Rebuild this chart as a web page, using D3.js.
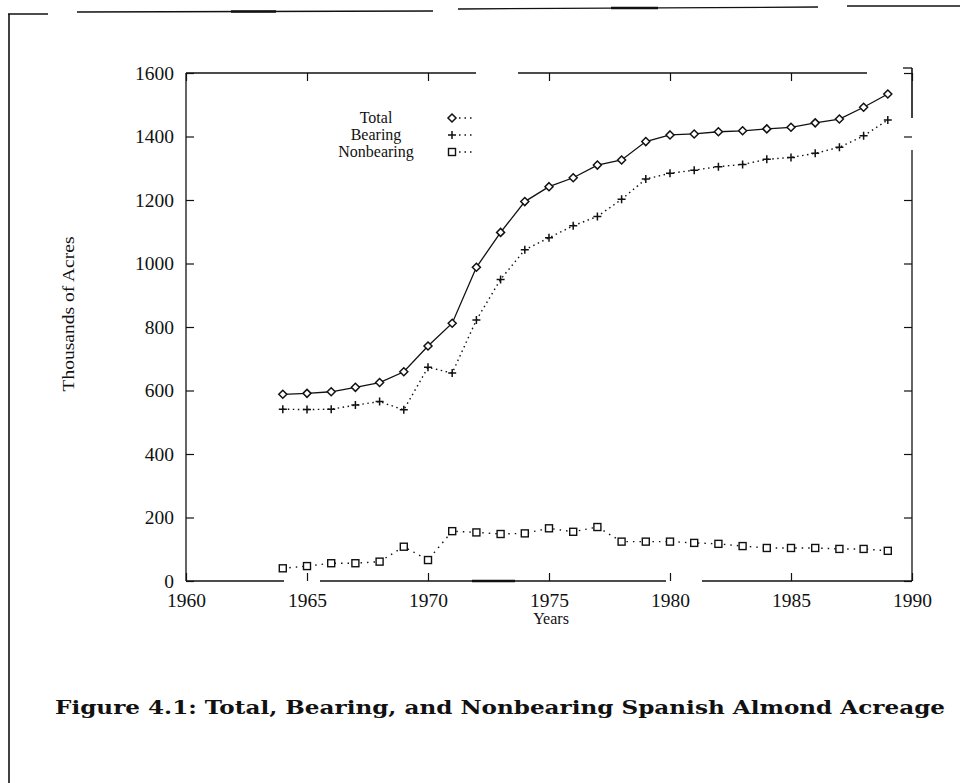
<!DOCTYPE html>
<html lang="en">
<head>
<meta charset="utf-8">
<title>Figure 4.1</title>
<script src="https://cdnjs.cloudflare.com/ajax/libs/d3/7.8.5/d3.min.js"></script>
<style>
  body { margin: 0; background: #fff; }
  svg { display: block; }
  .tick text { font-family: "Liberation Serif", serif; font-size: 19.5px; fill: #111; }
  .tick line { stroke: #111; stroke-width: 1.2; }
</style>
</head>
<body>
<script>
// data (thousands of acres)
var years = [1964, 1965, 1966, 1967, 1968, 1969, 1970, 1971, 1972, 1973, 1974, 1975, 1976,
             1977, 1978, 1979, 1980, 1981, 1982, 1983, 1984, 1985, 1986, 1987, 1988, 1989];
var total = [588, 591, 596, 610, 625, 659, 740, 812, 988, 1098, 1195, 1242, 1270,
             1310, 1326, 1384, 1405, 1408, 1415, 1418, 1424, 1429, 1443, 1455, 1492, 1534];
var bearing = [541, 540, 541, 554, 565, 539, 673, 655, 822, 950, 1043, 1081, 1119,
               1148, 1202, 1266, 1284, 1294, 1305, 1312, 1328, 1334, 1347, 1366, 1402, 1452];
var nonbearing = [40, 47, 56, 56, 61, 108, 66, 157, 153, 148, 150, 166, 155,
                  170, 124, 124, 124, 120, 117, 110, 104, 104, 104, 101, 101, 95];
var seriesNames = ["Total", "Bearing", "Nonbearing"];
var xTicks = [1960, 1965, 1970, 1975, 1980, 1985, 1990];
var yTicks = [0, 200, 400, 600, 800, 1000, 1200, 1400, 1600];

var W = 960, H = 783;
var plotL = 186, plotR = 912, plotT = 73, plotB = 581;

var svg = d3.select("body").append("svg")
    .attr("width", W).attr("height", H);

var x = d3.scaleLinear().domain([1960, 1990]).range([plotL, plotR]);
var y = d3.scaleLinear().domain([0, 1600]).range([plotB, plotT]);

// page frame left over from the scan
var ink = "#111";
function seg(x1, y1, x2, y2, w) {
  svg.append("line").attr("x1", x1).attr("y1", y1).attr("x2", x2).attr("y2", y2)
    .attr("stroke", ink).attr("stroke-width", w || 1.3);
}
seg(9, 14, 9, 783, 1.6);
seg(8, 14, 48, 14, 1.6);
seg(77, 12, 433, 11, 1.3);
seg(231, 11.5, 276, 11.5, 2.6);
seg(458, 9, 818, 7, 1.3);
seg(611, 8, 658, 8, 2.6);
seg(847, 6, 960, 6, 1.6);

// plot box (with the gaps of the scan)
seg(plotL, plotT, plotL, plotB, 1.3);
seg(plotL, plotT, 476, plotT, 1.3);
seg(518, plotT, 867, plotT, 1.3);
seg(903, 68, plotR, 68, 1.3);
seg(plotR, 68, plotR, 118, 1.6);
seg(plotR, 150, plotR, plotB, 1.3);
seg(plotL, plotB, 284, plotB, 1.3);
seg(320, plotB, 666, plotB, 1.3);
seg(472, plotB, 515, plotB, 2.4);
seg(702, plotB, plotR, plotB, 1.3);

// axes: ticks pointing inward on all four sides
var gl = svg.append("g").attr("transform", "translate(" + plotL + ",0)")
  .call(d3.axisLeft(y).tickValues(yTicks).tickFormat(d3.format("d")).tickSize(-8).tickPadding(12));
var gb = svg.append("g").attr("transform", "translate(0," + plotB + ")")
  .call(d3.axisBottom(x).tickValues(xTicks).tickFormat(d3.format("d")).tickSize(-8).tickPadding(12));
var gt = svg.append("g").attr("transform", "translate(0," + plotT + ")")
  .call(d3.axisTop(x).tickValues(xTicks).tickFormat("").tickSize(-8));
var gr = svg.append("g").attr("transform", "translate(" + plotR + ",0)")
  .call(d3.axisRight(y).tickValues(yTicks).tickFormat("").tickSize(-8));
[gl, gb, gt, gr].forEach(function(g) {
  g.select(".domain").remove();
  g.attr("font-family", null).attr("font-size", null);
});

// axis titles
svg.append("text")
  .attr("x", 551).attr("y", 624)
  .attr("text-anchor", "middle")
  .attr("font-family", "Liberation Serif").attr("font-size", 16).attr("fill", ink)
  .text("Years");
svg.append("text")
  .attr("transform", "translate(74,314) rotate(-90)")
  .attr("text-anchor", "middle")
  .attr("font-family", "Liberation Serif").attr("font-size", 17).attr("fill", ink)
  .attr("textLength", 155).attr("lengthAdjust", "spacingAndGlyphs")
  .text("Thousands of Acres");

// series
var rows = years.map(function(yr, i) {
  return {year: yr, v: [total[i], bearing[i], nonbearing[i]]};
});
var styles = [
  {dash: null, width: 1.3},
  {dash: "1.5,3.5", width: 1.4},
  {dash: "1.5,5", width: 1.4}
];

function marker(g, k, cx, cy) {
  if (k === 0) {
    g.append("path")
      .attr("d", "M" + cx + "," + (cy - 4) + "L" + (cx + 4) + "," + cy + "L" + cx + "," + (cy + 4) + "L" + (cx - 4) + "," + cy + "Z")
      .attr("fill", "#fff").attr("stroke", ink).attr("stroke-width", 1.5);
  } else if (k === 1) {
    g.append("path")
      .attr("d", "M" + (cx - 4) + "," + cy + "H" + (cx + 4) + "M" + cx + "," + (cy - 4) + "V" + (cy + 4))
      .attr("stroke", ink).attr("stroke-width", 1.5);
  } else {
    g.append("rect")
      .attr("x", cx - 3.5).attr("y", cy - 3.5).attr("width", 7).attr("height", 7)
      .attr("fill", "#fff").attr("stroke", ink).attr("stroke-width", 1.4);
  }
}

seriesNames.forEach(function(name, k) {
  var line = d3.line()
    .x(function(d) { return x(d.year); })
    .y(function(d) { return y(d.v[k]); });
  svg.append("path")
    .datum(rows)
    .attr("d", line)
    .attr("fill", "none")
    .attr("stroke", ink)
    .attr("stroke-width", styles[k].width)
    .attr("stroke-dasharray", styles[k].dash);
  var g = svg.append("g");
  rows.forEach(function(d) { marker(g, k, x(d.year), y(d.v[k])); });
});

// legend
seriesNames.forEach(function(name, k) {
  var by = 123 + k * 17;
  svg.append("text")
    .attr("x", 376).attr("y", by)
    .attr("text-anchor", "middle")
    .attr("font-family", "Liberation Serif").attr("font-size", 16).attr("fill", ink)
    .text(name);
  svg.append("line")
    .attr("x1", 459).attr("x2", 475).attr("y1", by - 5).attr("y2", by - 5)
    .attr("stroke", ink).attr("stroke-width", 1.4).attr("stroke-dasharray", "1.5,4");
  marker(svg, k, 452, by - 5);
});

// caption
svg.append("text")
  .attr("x", 55).attr("y", 714)
  .attr("font-family", "DejaVu Serif").attr("font-weight", "bold").attr("font-size", 19)
  .attr("fill", ink)
  .attr("textLength", 890).attr("lengthAdjust", "spacingAndGlyphs")
  .text("Figure 4.1: Total, Bearing, and Nonbearing Spanish Almond Acreage");
</script>
</body>
</html>
